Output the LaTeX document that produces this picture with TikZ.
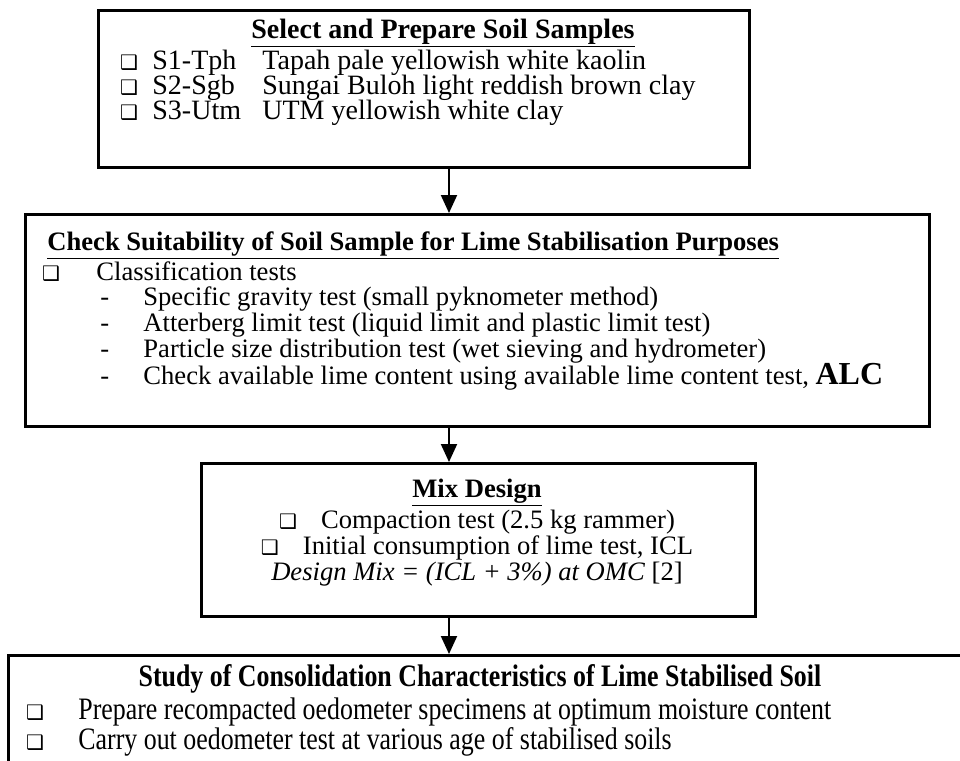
\documentclass[tikz,border=0pt]{standalone}
\usepackage{fontspec}
\setmainfont{Liberation Serif}
\newfontfamily\symfont{DejaVu Sans}
\newfontfamily\narrowfont[FakeStretch=0.83]{Liberation Serif}
\usetikzlibrary{arrows.meta, positioning}

\newcommand{\sqbullet}{{\symfont\fontsize{10}{10}\selectfont ❑}}

\tikzset{
  stagebox/.style={draw, line width=1.5pt, inner sep=0pt, anchor=north west},
  flow/.style={-{Triangle[length=9pt,width=8pt]}, line width=1pt},
  txt/.style={inner sep=0pt, anchor=base west, font=\fontsize{13.3}{13.3}\selectfont},
  ctxt/.style={txt, anchor=base},
  bigtxt/.style={txt, font=\fontsize{14}{14}\selectfont},
  tallfont/.style={font=\narrowfont\fontsize{15.6}{15.6}\selectfont},
  bul/.style={inner sep=0pt, anchor=base},
}

\begin{document}
\begin{tikzpicture}[x=0.5pt, y=-0.5pt]
\useasboundingbox (0,0) rectangle (960,761);
\clip (0,0) rectangle (960,761);

% the four stages
\node[stagebox, minimum width=325.5pt, minimum height=78.5pt] (select) at (97,9) {};
\node[stagebox, minimum width=452pt, minimum height=106pt] (check) at (24,213) {};
\node[stagebox, minimum width=277pt, minimum height=76.5pt] (mix) at (200,462) {};
\node[stagebox, minimum width=484pt, minimum height=70pt] (study) at (7,654) {};

% soil samples
\node[bigtxt, anchor=base] (selt) at (443,38) {\textbf{\underline{Select and Prepare Soil Samples}}};
\foreach \code/\desc [count=\i] in {S1-Tph/Tapah pale yellowish white kaolin,
    S2-Sgb/Sungai Buloh light reddish brown clay, S3-Utm/UTM yellowish white clay}{
  \node[bul] (sb\i) at (129,{44+\i*25}) {\sqbullet};
  \node[bigtxt] (sc\i) at (152,{44+\i*25}) {\code};
  \node[bigtxt] (sd\i) at (262,{44+\i*25}) {\desc};
}

% suitability checks
\node[txt] (chkt) at (47,250) {\textbf{\underline{Check Suitability of Soil Sample for Lime Stabilisation Purposes}}};
\node[bul] (cb) at (51,280) {\sqbullet};
\node[txt] (cc) at (96,280) {Classification tests};
\foreach \test [count=\i] in {Specific gravity test (small pyknometer method),
    Atterberg limit test (liquid limit and plastic limit test),
    Particle size distribution test (wet sieving and hydrometer)}{
  \node[txt] (cd\i) at (100,{280+\i*25.7}) {-};
  \node[txt] (ct\i) at (143,{280+\i*25.7}) {\test};
}
\node[txt] (cd4) at (100,384) {-};
\node[txt] (ct4) at (143,384) {Check available lime content using available lime content test,
  {\fontsize{16}{16}\selectfont\textbf{ALC}}};

% mix design
\node[ctxt] (mixt) at (477,497) {\textbf{\underline{Mix Design}}};
\node[ctxt] (mix1) at (477,528) {\sqbullet\hspace{12pt}Compaction test (2.5 kg rammer)};
\node[ctxt] (mix2) at (477,554) {\sqbullet\hspace{12pt}Initial consumption of lime test, ICL};
\node[ctxt] (mix3) at (477,580) {\textit{Design Mix = (ICL + 3\%) at OMC} [2]};

% consolidation study
\node[ctxt, tallfont] (stt) at (480,686)
  {\textbf{Study of Consolidation Characteristics of Lime Stabilised Soil}};
\node[bul] (sb4) at (35,719) {\sqbullet};
\node[txt, tallfont] (st1) at (78,719)
  {Prepare recompacted oedometer specimens at optimum moisture content};
\node[bul] (sb5) at (35,749) {\sqbullet};
\node[txt, tallfont] (st2) at (78,749)
  {Carry out oedometer test at various age of stabilised soils};

% connectors
\coordinate (axis) at (449,0);
\draw[flow] (axis |- select.south) -- (axis |- check.north);
\draw[flow] (axis |- check.south) -- (axis |- mix.north);
\draw[flow] (axis |- mix.south) -- (axis |- study.north);
\end{tikzpicture}
\end{document}
